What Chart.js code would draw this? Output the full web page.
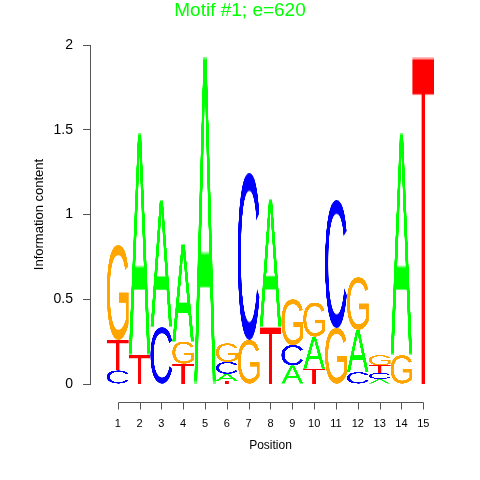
<!DOCTYPE html>
<html>
<head>
<meta charset="utf-8">
<script src="https://cdn.jsdelivr.net/npm/chart.js@4"></script>
<style>
  body { margin: 0; background: #fff; }
  #wrap { width: 480px; height: 480px; }
</style>
</head>
<body>
<div id="wrap"><canvas id="canvas" width="480" height="480"></canvas></div>
<script>
// information content of each letter at each position
const positions = [1, 2, 3, 4, 5, 6, 7, 8, 9, 10, 11, 12, 13, 14, 15];
const letterA = [0, 1.31, 0.75, 0.575, 1.93, 0.04, 0, 0.755, 0.11, 0.19, 0, 0.25, 0.03, 1.31, 0];
const letterC = [0.08, 0, 0.335, 0, 0, 0.07, 0.985, 0, 0.12, 0, 0.755, 0.07, 0.035, 0, 0];
const letterG = [0.56, 0, 0, 0.13, 0, 0.11, 0.26, 0, 0.27, 0.2, 0.33, 0.31, 0.06, 0.17, 0];
const letterT = [0.18, 0.17, 0, 0.12, 0, 0.02, 0, 0.335, 0, 0.09, 0, 0, 0.045, 0, 1.93];
const xTicks = [1, 2, 3, 4, 5, 6, 7, 8, 9, 10, 11, 12, 13, 14, 15];
const yTicks = [0, 0.5, 1, 1.5, 2];

const letters = ['A', 'C', 'G', 'T'];
const heights = { A: letterA, C: letterC, G: letterG, T: letterT };
const colors = { A: '#00FF00', C: '#0000FF', G: '#FFA500', T: '#FF0000' };

Chart.defaults.font.family = '"Liberation Sans", Arial, sans-serif';

// stack letters per position: smallest at the bottom
const ranges = { A: [], C: [], G: [], T: [] };
positions.forEach((p, i) => {
  const order = letters.slice().sort((a, b) => heights[a][i] - heights[b][i]);
  let base = 0;
  order.forEach((l) => {
    const h = heights[l][i];
    if (h > 0) ranges[l].push({ x: p, y: [base, base + h] });
    base += h;
  });
});

const glyphs = {};
function glyph(letter) {
  if (glyphs[letter]) return glyphs[letter];
  const c = document.createElement('canvas');
  const g = c.getContext('2d');
  const font = '200px "Liberation Sans", Arial, sans-serif';
  g.font = font;
  const m = g.measureText(letter);
  c.width = Math.ceil(m.actualBoundingBoxLeft + m.actualBoundingBoxRight);
  c.height = Math.ceil(m.actualBoundingBoxAscent + m.actualBoundingBoxDescent);
  g.font = font;
  g.fillStyle = colors[letter];
  g.fillText(letter, m.actualBoundingBoxLeft, m.actualBoundingBoxAscent);
  glyphs[letter] = c;
  return c;
}

const logoPlugin = {
  id: 'logo',
  afterDatasetsDraw(chart) {
    const ctx = chart.ctx;
    chart.data.datasets.forEach((ds, di) => {
      const meta = chart.getDatasetMeta(di);
      meta.data.forEach((bar) => {
        const { x, y, base, width } = bar.getProps(['x', 'y', 'base', 'width'], true);
        const top = Math.min(y, base);
        const h = Math.abs(base - y);
        if (h < 0.5) return;
        ctx.drawImage(glyph(ds.label), x - width / 2, top, width, h);
      });
    });
  },
  afterDraw(chart) {
    // R style x axis, set below the plot
    const xs = chart.scales.x;
    const ctx = chart.ctx;
    const y0 = Math.round(chart.chartArea.bottom + 18) + 0.5;
    ctx.save();
    ctx.strokeStyle = '#555';
    ctx.lineWidth = 1;
    ctx.beginPath();
    ctx.moveTo(Math.round(xs.getPixelForValue(xTicks[0])) + 0.5, y0);
    ctx.lineTo(Math.round(xs.getPixelForValue(xTicks[xTicks.length - 1])) + 0.5, y0);
    xTicks.forEach((v) => {
      const px = Math.round(xs.getPixelForValue(v)) + 0.5;
      ctx.moveTo(px, y0);
      ctx.lineTo(px, y0 + 7);
    });
    ctx.stroke();
    ctx.restore();
  },
};

const config = {
  type: 'bar',
  data: {
    datasets: letters.map((l) => ({
      label: l,
      data: ranges[l],
      backgroundColor: 'rgba(0,0,0,0)',
      borderWidth: 0,
      grouped: false,
      barPercentage: 1,
      categoryPercentage: 1,
    })),
  },
  options: {
    responsive: false,
    animation: false,
    layout: { padding: 0 },
    plugins: {
      legend: { display: false },
      tooltip: { enabled: false },
      title: {
        display: true,
        text: 'Motif #1; e=620',
        color: '#00FF00',
        font: { size: 19, weight: 'normal', lineHeight: 0.9 },
        padding: { top: 2, bottom: 25.9 },
      },
    },
    scales: {
      x: {
        type: 'linear',
        min: -0.269,
        max: 16.27,
        offset: false,
        grid: { display: false, drawTicks: false },
        border: { display: false },
        afterBuildTicks: (s) => {
          s.ticks = xTicks.map((v) => ({ value: v }));
        },
        ticks: {
          padding: 33,
          autoSkip: false,
          maxRotation: 0,
          color: '#000',
          font: { size: 11 },
        },
        title: {
          display: true,
          text: 'Position',
          color: '#000',
          font: { size: 12 },
          padding: { top: 0, bottom: 27 },
        },
        afterFit: (s) => {
          s.height = 96;
        },
      },
      y: {
        min: 0,
        max: 2,
        afterBuildTicks: (s) => {
          s.ticks = yTicks.map((v) => ({ value: v }));
        },
        grid: {
          display: true,
          drawOnChartArea: false,
          drawTicks: true,
          tickLength: 7,
          color: '#555',
        },
        border: { display: true, color: '#555' },
        ticks: {
          padding: 10,
          color: '#000',
          font: { size: 14 },
          callback: (v) => String(v),
        },
        title: {
          display: true,
          text: 'Information content',
          color: '#000',
          font: { size: 13 },
          padding: { top: 32, bottom: 0 },
        },
        afterFit: (s) => {
          s.width = 90;
        },
      },
      // empty right margin, keeps the plot title centred on the page
      yRight: {
        position: 'right',
        min: 0,
        max: 2,
        grid: { display: false },
        border: { display: false },
        ticks: { display: false },
        afterFit: (s) => {
          s.width = 29;
        },
      },
    },
  },
  plugins: [logoPlugin],
};

const ctx = document.getElementById('canvas').getContext('2d');
window.myLogo = new Chart(ctx, config);
</script>
</body>
</html>
